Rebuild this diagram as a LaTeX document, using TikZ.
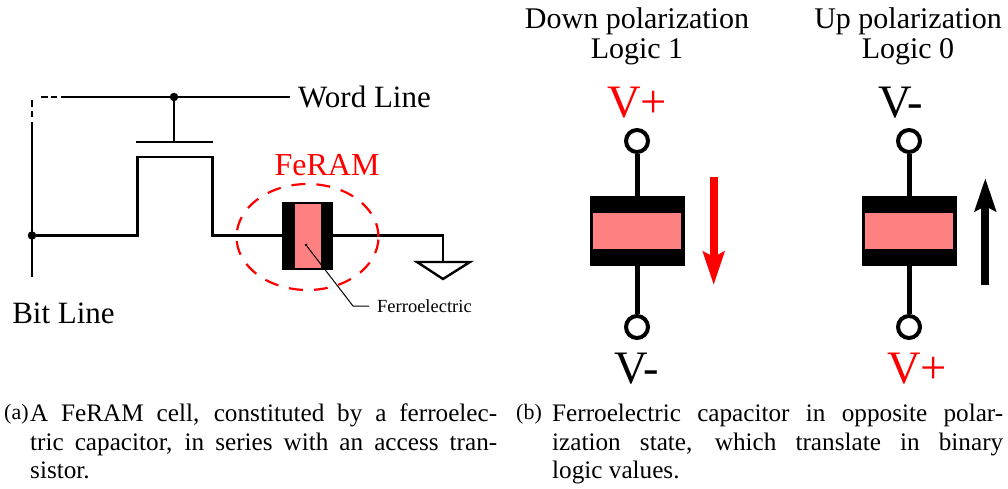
\documentclass[tikz,border=0pt]{standalone}
\usepackage{fontspec}
\setmainfont{Liberation Serif}
\usetikzlibrary{arrows.meta,shapes.geometric}
\definecolor{ferropink}{HTML}{FF8080}
\newcommand{\fsize}[1]{\fontsize{#1}{#1}\selectfont}
\begin{document}
\begin{tikzpicture}[
        x=1pt,y=-1pt,
        wire/.style={draw,line width=2.4pt},
        thick wire/.style={draw,line width=5pt},
        dot/.style={circle,fill=black,inner sep=0pt,minimum size=8.5pt},
        terminal/.style={draw,circle,line width=4pt,fill=white,inner sep=0pt,minimum size=22pt},
        plate/.style={fill=black,inner sep=0pt},
        ferro/.style={fill=ferropink,inner sep=0pt},
        label text/.style={inner sep=0pt,font=\fsize{31}},
        volt/.style={inner sep=0pt,font=\fsize{46.5}},
        title/.style={inner sep=0pt,align=center,font=\fontsize{30}{30}\selectfont},
        caption tag/.style={inner sep=0pt,anchor=north west,font=\fontsize{22}{28.5}\selectfont},
        caption body/.style={inner sep=0pt,anchor=north west,align=justify,font=\fontsize{25.2}{28.5}\selectfont},
        ]
    \useasboundingbox (0,0) rectangle (1008,489);

    % cell
    \node (wl) [label text,anchor=west] at (298,97) {Word Line};
    \node (bl) [label text] at (63.5,313) {Bit Line};
    \node (wldot) [dot] at (174,97) {};
    \node (bldot) [dot] at (32,235.5) {};
    \coordinate (wlend) at (61,97);
    \coordinate (wlstop) at (290,97);
    \coordinate (blend) at (32,122);
    \coordinate (blfoot) at (32,277);
    \draw [wire] (wlend) -- (wlstop);
    \draw [wire] (blfoot) -- (blend);
    \draw [wire] (41,97) -- (48,97) (51,97) -- (57,97);
    \draw [wire] (32,100) -- (32,107) (32,111) -- (32,117);

    % transistor
    \coordinate (gl) at (136,142);
    \coordinate (gr) at (213,142);
    \coordinate (gm) at (174,142);
    \draw [wire] (gl) -- (gr);
    \draw [wire] (wldot) -- (gm);

    % capacitor
    \node (cap) [plate,minimum width=51pt,minimum height=68pt] at (307.5,235.5) {};
    \node (capin) [ferro,minimum width=26pt,minimum height=64pt] at (308,235.5) {};
    \coordinate (gnd) at (443,262);
    \draw [wire] (bldot) -- (137.5,235.5) -- (137.5,157) -- (212.5,157) -- (212.5,235.5) -- (cap.west);
    \draw [wire] (cap.east) -- (443,235.5) -- (gnd);
    \draw [wire] (417,262) -- (470,262) -- (443,279) -- cycle;
    \node (feram) [label text,text=red,font=\fsize{32}] at (327,165) {FeRAM};
    \node (ring) [draw=red,ellipse,line width=2.2pt,dash pattern=on 14pt off 11pt,
        minimum width=142pt,minimum height=106pt,inner sep=0pt] at (307.5,237) {};
    \node (fe) [inner sep=0pt,anchor=west,font=\fsize{18.5}] at (377,306) {Ferroelectric};
    \node (fedot) [circle,fill=black,inner sep=0pt,minimum size=3pt] at (306,245) {};
    \draw [line width=1pt] (fedot) -- (353,306) -- (369,306);

    % down polarization
    \node (tdown) [title] at (637,36.5) {Down polarization\\[0pt]Logic 1};
    \node (vpa) [volt,text=red] at (637,103) {V+};
    \node (vma) [volt] at (637,369) {V-};
    \node (ta) [terminal] at (637,141) {};
    \node (ba) [terminal] at (637,327) {};
    \node (capa) [plate,minimum width=95pt,minimum height=70pt] at (637,231) {};
    \node (ina) [ferro,minimum width=88pt,minimum height=35.5pt] at (637,231) {};
    \draw [thick wire] (ta) -- (capa);
    \draw [thick wire] (ba) -- (capa);
    \coordinate (arra) at (713.7,177);
    \coordinate (arrb) at (713.7,285);
    \draw [red,line width=8pt,-{Stealth[length=33pt,width=21pt,inset=5pt]}] (arra) -- (arrb);

    % up polarization
    \node (tup) [title] at (908,36.5) {Up polarization\\[0pt]Logic 0};
    \node (vmb) [volt] at (900.7,103) {V-};
    \node (vpb) [volt,text=red] at (917,369) {V+};
    \node (tb) [terminal] at (909,141) {};
    \node (bb) [terminal] at (909,327) {};
    \node (capb) [plate,minimum width=95pt,minimum height=70pt] at (909,231) {};
    \node (inb) [ferro,minimum width=88pt,minimum height=35.5pt] at (909,231) {};
    \draw [thick wire] (tb) -- (capb);
    \draw [thick wire] (bb) -- (capb);
    \coordinate (arrc) at (985.3,285);
    \coordinate (arrd) at (985.3,178);
    \draw [black,line width=8pt,-{Stealth[length=33pt,width=21pt,inset=5pt]}] (arrc) -- (arrd);

    % captions
    \node (capta) [caption tag] at (4,404) {(a)};
    \node (captabody) [caption body,text width=467pt] at (30,404) {A FeRAM cell, constituted by a ferroelec-\linebreak tric capacitor, in series with an access tran-\linebreak sistor.};
    \node (captb) [caption tag] at (516,404) {(b)};
    \node (captbbody) [caption body,text width=451pt] at (552,404) {Ferroelectric capacitor in opposite polar-\linebreak ization state, which translate in binary\linebreak logic values.};
\end{tikzpicture}
\end{document}
